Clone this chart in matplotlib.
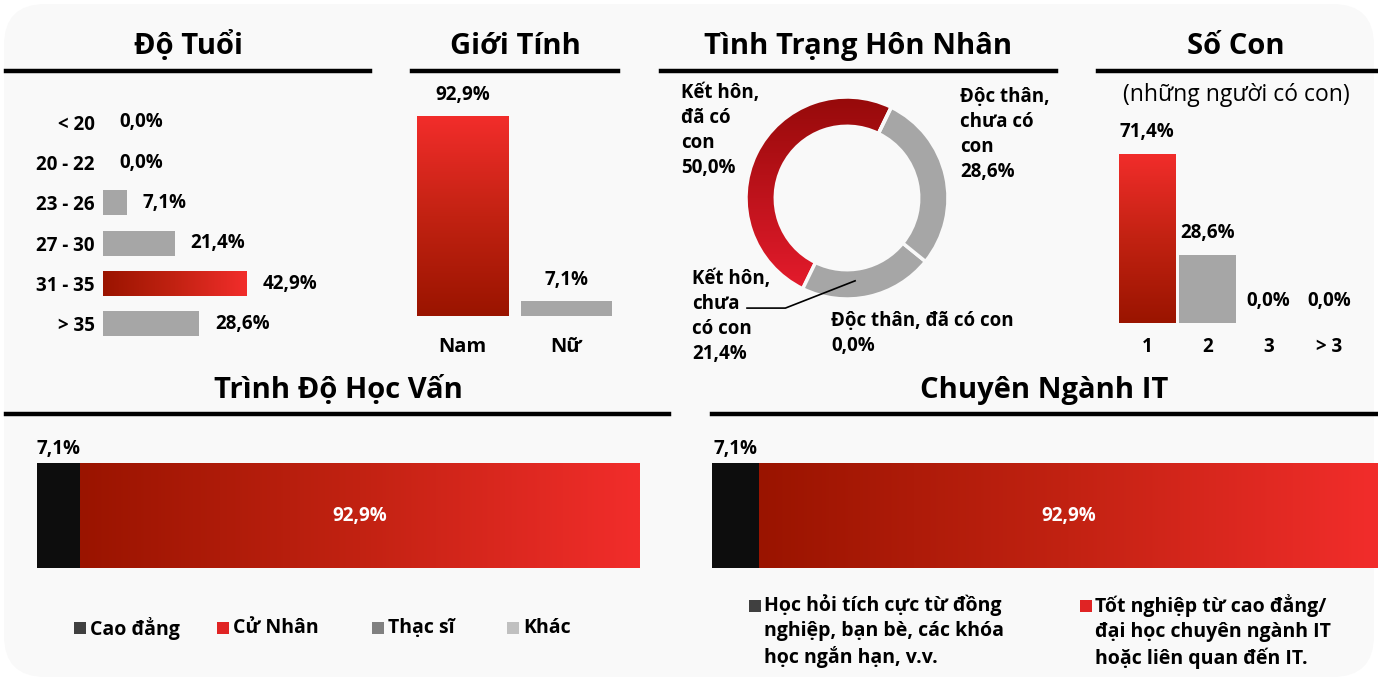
import matplotlib.pyplot as plt
import numpy as np
from matplotlib.colors import LinearSegmentedColormap
from matplotlib.lines import Line2D
from matplotlib.patches import FancyBboxPatch, Rectangle

W, H = 1378, 681
plt.rcParams["font.family"] = ["Open Sans", "DejaVu Sans"]
plt.rcParams["font.weight"] = "bold"

# Survey data (percent)
age_groups = ["< 20", "20 - 22", "23 - 26", "27 - 30", "31 - 35", "> 35"]
age_share = [0.0, 0.0, 7.1, 21.4, 42.9, 28.6]

genders = ["Nam", "Nữ"]
gender_share = [92.9, 7.1]

marital = [
    "Kết hôn,\nđã có\ncon",
    "Kết hôn,\nchưa\ncó con",
    "Độc thân,\nchưa có\ncon",
    "Độc thân, đã có con",
]
marital_share = [50.0, 21.4, 28.6, 0.0]

children = ["1", "2", "3", "> 3"]
children_share = [71.4, 28.6, 0.0, 0.0]

edu_levels = ["Cao đẳng", "Cử Nhân", "Thạc sĩ", "Khác"]
edu_share = [7.1, 92.9, 0.0, 0.0]

it_paths = [
    "Học hỏi tích cực từ đồng\nnghiệp, bạn bè, các khóa\nhọc ngắn hạn, v.v.",
    "Tốt nghiệp từ cao đẳng/\nđại học chuyên ngành IT\nhoặc liên quan đến IT.",
]
it_share = [7.1, 92.9]

BG = "#f9f9f9"
GRAY = "#a6a6a6"
BLACK = "#0d0d0d"
FS = 13.5
reds = LinearSegmentedColormap.from_list("reds", ["#9a1400", "#c22212", "#f22d2b"])
donut_reds = LinearSegmentedColormap.from_list("donut", ["#960a0a", "#e81c2e"])


def pct(v):
    return f"{v:.1f}%".replace(".", ",")


def rect(x0, y0, x1, y1):
    # pixel box (top-left origin) -> figure fraction
    return [x0 / W, 1 - y1 / H, (x1 - x0) / W, (y1 - y0) / H]


def ftext(x, y, s, **kw):
    fig.text(x / W, 1 - y / H, s, **kw)


def title(xc, y, s, x0, x1, yl):
    ftext(xc, y, s, ha="center", va="baseline", fontsize=21, fontweight="bold")
    fig.add_artist(Line2D([x0 / W, x1 / W], [1 - yl / H] * 2, color="black", lw=3.2))


def gradient(ax, patch, cmap, vertical=False):
    x, y = patch.get_x(), patch.get_y()
    w, h = patch.get_width(), patch.get_height()
    g = np.linspace(0, 1, 256)
    img = g.reshape(-1, 1) if vertical else g.reshape(1, -1)
    im = ax.imshow(img, cmap=cmap, extent=[x, x + w, y, y + h], origin="lower",
                   aspect="auto", zorder=patch.get_zorder() + 0.1)
    im.set_clip_path(patch)


def clean(ax):
    ax.set_facecolor("none")
    for s in ax.spines.values():
        s.set_visible(False)


fig = plt.figure(figsize=(W / 100, H / 100), dpi=100, facecolor="white")
fig.add_artist(FancyBboxPatch((4 / W, 4 / H), 1 - 8 / W, 1 - 8 / H,
                              boxstyle="round,pad=0,rounding_size=0.03",
                              transform=fig.transFigure, fc=BG, ec="none",
                              mutation_aspect=W / H, zorder=-10))

# --- Độ Tuổi ---
title(188, 54, "Độ Tuổi", 6, 370, 70.5)
ax = fig.add_axes(rect(103, 102, 438, 344))
clean(ax)
bars = ax.barh(range(len(age_groups)), age_share, height=0.62, color=GRAY)
gradient(ax, bars[4], reds)
bars[4].set_facecolor("none")
for i, v in enumerate(age_share):
    ax.annotate(pct(v), (v, i), xytext=(16, 0), textcoords="offset pixels",
                va="center", ha="left", fontsize=FS)
ax.set_yticks(range(len(age_groups)), age_groups, fontsize=FS)
ax.tick_params(length=0, pad=6)
ax.set_xticks([])
ax.set_xlim(0, 100)
ax.set_ylim(len(age_groups) - 0.5, -0.5)

# --- Giới Tính ---
title(515, 54, "Giới Tính", 412, 618, 70.5)
ax = fig.add_axes(rect(411, 101, 618, 316))
clean(ax)
bars = ax.bar(range(2), gender_share, width=0.88, color=["none", GRAY])
gradient(ax, bars[0], reds, vertical=True)
for i, v in enumerate(gender_share):
    ax.annotate(pct(v), (i, v), xytext=(0, 11), textcoords="offset pixels",
                ha="center", va="bottom", fontsize=FS)
ax.set_xticks(range(2), genders, fontsize=14.5)
ax.tick_params(length=0, pad=15)
ax.set_yticks([])
ax.set_xlim(-0.5, 1.5)
ax.set_ylim(0, 100)

# --- Tình Trạng Hôn Nhân ---
title(858, 54, "Tình Trạng Hôn Nhân", 661, 1056, 70.5)
r_px = 101
ax = fig.add_axes(rect(847 - 1.2 * r_px, 198 - 1.2 * r_px, 847 + 1.2 * r_px, 198 + 1.2 * r_px))
clean(ax)
wedges, _ = ax.pie(marital_share, startangle=64, counterclock=True, radius=1,
                   colors=["none", GRAY, GRAY, GRAY],
                   wedgeprops=dict(width=0.29, edgecolor=BG, linewidth=2.5))
img = np.linspace(1, 0, 256).reshape(-1, 1)
im = ax.imshow(img, cmap=donut_reds, extent=[-1, 1, -1, 1], origin="lower",
               aspect="auto", zorder=0.5)
im.set_clip_path(wedges[0])
wedges[0].set_zorder(1)
ax.plot([0.08, -0.61, -0.99], [-0.82, -1.09, -1.09], color="black", lw=1.2,
        clip_on=False)
ax.set_xlim(-1.2, 1.2)
ax.set_ylim(-1.2, 1.2)
ax.set_aspect("equal")
label_pos = [(681, 83), (692, 269), (960, 87), (831, 311)]
for (x, y), name, v in zip(label_pos, marital, marital_share):
    ftext(x, y, f"{name}\n{pct(v)}", ha="left", va="top", fontsize=FS,
          linespacing=1.33)

# --- Số Con ---
title(1236, 54, "Số Con", 1098, 1378, 70.5)
ftext(1236, 95, "(những người có con)", ha="center", va="center", fontsize=16.5,
      fontweight="normal")
ax = fig.add_axes(rect(1117, 86, 1359, 323))
clean(ax)
bars = ax.bar(range(4), children_share, width=0.94,
              color=["none", GRAY, GRAY, GRAY])
gradient(ax, bars[0], reds, vertical=True)
for i, v in enumerate(children_share):
    ax.annotate(pct(v), (i, v), xytext=(0, 12), textcoords="offset pixels",
                ha="center", va="bottom", fontsize=FS)
ax.set_xticks(range(4), children, fontsize=FS)
ax.tick_params(length=0, pad=10)
ax.set_yticks([])
ax.set_xlim(-0.5, 3.5)
ax.set_ylim(0, 100)


def stacked(x0, x1, shares, cmap_idx):
    ax = fig.add_axes(rect(x0, 463, x1, 568))
    clean(ax)
    left = 0
    for j, v in enumerate(shares):
        if v == 0:
            continue
        color = BLACK if j == 0 else "none"
        b = ax.barh(0, v, left=left, height=1, color=color)[0]
        if j == cmap_idx:
            gradient(ax, b, reds)
            ax.text(left + v / 2, 0, pct(v), ha="center", va="center",
                    color="white", fontsize=FS)
        else:
            ax.annotate(pct(v), (left + v / 2, 0.5), xytext=(0, 4),
                        textcoords="offset pixels", ha="center", va="bottom",
                        fontsize=FS)
        left += v
    ax.set_xlim(0, 100)
    ax.set_ylim(-0.5, 0.5)
    ax.set_xticks([])
    ax.set_yticks([])
    return ax


def legend_square(x, y, color):
    fig.add_artist(Rectangle((x / W, 1 - (y + 6) / H), 12 / W, 12 / H,
                             transform=fig.transFigure, fc=color, ec="none"))


# --- Trình Độ Học Vấn ---
title(338, 398, "Trình Độ Học Vấn", 6, 669, 414)
stacked(37, 639, edu_share, 1)
edu_colors = ["#404040", "#e02424", "#808080", "#c0c0c0"]
for x, name, c in zip([74, 217, 372, 507], edu_levels, edu_colors):
    legend_square(x, 628, c)
    ftext(x + 16, 628, name, ha="left", va="center", fontsize=14)

# --- Chuyên Ngành IT ---
title(1044, 398, "Chuyên Ngành IT", 712, 1378, 414)
stacked(712, 1378, it_share, 1)
for x, name, c in zip([749, 1080], it_paths, ["#404040", "#e02424"]):
    legend_square(x, 606, c)
    ftext(x + 15, 594, name, ha="left", va="top", fontsize=14, linespacing=1.33)

fig.savefig("out.png", dpi=100, facecolor="white")
